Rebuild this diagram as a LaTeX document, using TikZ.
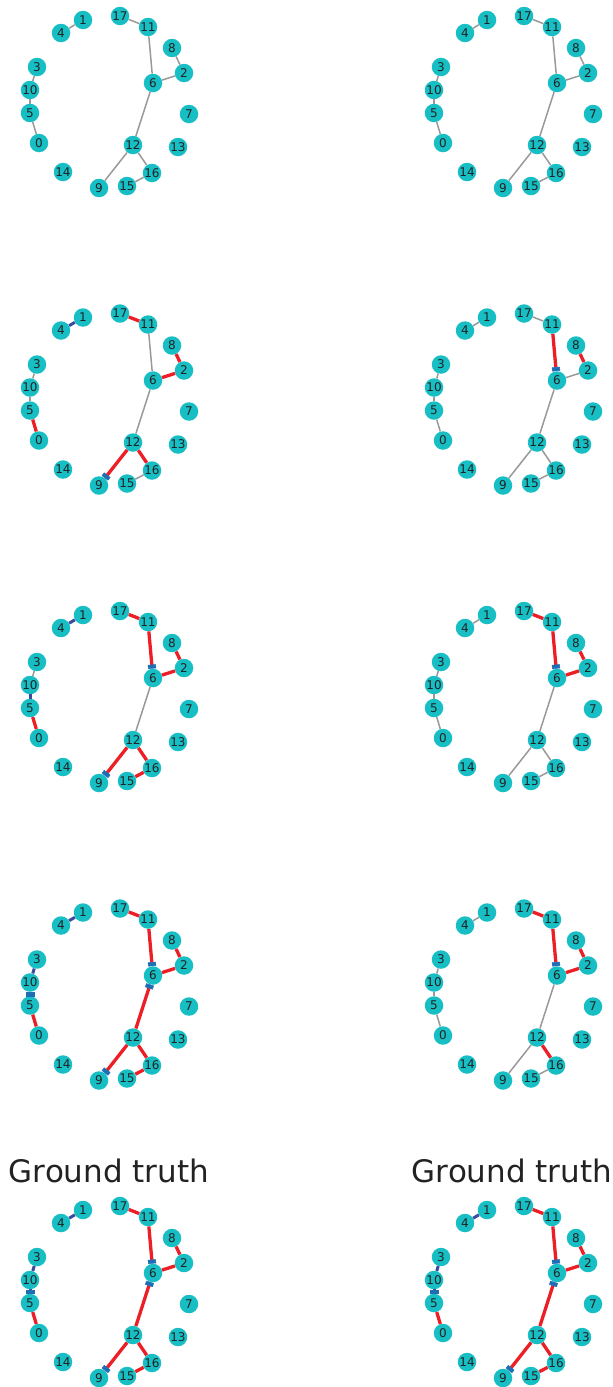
\documentclass[tikz,border=0pt]{standalone}
\usepackage{fontspec}
\setmainfont{DejaVu Sans}
\usetikzlibrary{arrows.meta}

\definecolor{nodeteal}{RGB}{23,190,196}
\definecolor{edgered}{RGB}{236,30,38}
\definecolor{edgeblue}{RGB}{58,76,160}
\definecolor{markblue}{RGB}{31,110,180}
\definecolor{labelink}{RGB}{34,34,34}

% the 18 vertices of one panel, named #1-0 ... #1-17
\newcommand{\panelnodes}[3]{%
  \foreach \n/\x/\y in {0/39/143, 1/83/20, 2/184/73, 3/37/67, 4/61/33, 5/30/113,
      6/153/83, 7/189/114, 8/172/48, 9/99/188, 10/30/90, 11/148/27,
      12/133/145, 13/178/147, 14/63/172, 15/127/186, 16/152/173, 17/120/16}
    \node[vertex] (#1-\n) at ({#2+\x},{#3+\y}) {\n};
}
% the edges of one panel, given as style/from/to
\newcommand{\paneledges}[2]{%
  \foreach \s/\a/\b in {#2}
    \draw[\s] (#1-\a) -- (#1-\b);
}

\begin{document}
\begin{tikzpicture}[
    x=1pt, y=-1pt,
    vertex/.style={circle, fill=nodeteal, inner sep=0pt, minimum size=18.5pt,
      text=labelink, font=\fontsize{12}{12}\selectfont},
    grayedge/.style={draw=black!40, line width=1.5pt},
    rededge/.style={draw=edgered, line width=3.3pt},
    blueedge/.style={draw=edgeblue, line width=3pt},
    marker/.style={-{Rectangle[length=4pt, width=8pt, line width=0.5pt, color=markblue, fill=markblue]}},
    redarrow/.style={rededge, marker},
    bluearrow/.style={blueedge, marker},
    title/.style={anchor=base, text=labelink, font=\fontsize{31}{31}\selectfont}
]
\useasboundingbox (0,0) rectangle (613,1387);

% row 1
\panelnodes{a}{0}{0}
\paneledges{a}{grayedge/4/1, grayedge/17/11, grayedge/11/6, grayedge/8/2, grayedge/2/6, grayedge/6/12,
  grayedge/12/9, grayedge/12/16, grayedge/16/15, grayedge/3/10, grayedge/10/5, grayedge/5/0}
\panelnodes{b}{404}{0}
\paneledges{b}{grayedge/4/1, grayedge/17/11, grayedge/11/6, grayedge/8/2, grayedge/2/6, grayedge/6/12,
  grayedge/12/9, grayedge/12/16, grayedge/16/15, grayedge/3/10, grayedge/10/5, grayedge/5/0}

% row 2
\panelnodes{c}{0}{297.5}
\paneledges{c}{blueedge/4/1, rededge/17/11, grayedge/11/6, rededge/8/2, rededge/2/6, grayedge/6/12,
  redarrow/12/9, rededge/12/16, grayedge/16/15, grayedge/3/10, grayedge/10/5, rededge/5/0}
\panelnodes{d}{404}{297.5}
\paneledges{d}{grayedge/4/1, grayedge/17/11, redarrow/11/6, rededge/8/2, grayedge/2/6, grayedge/6/12,
  grayedge/12/9, grayedge/12/16, grayedge/16/15, grayedge/3/10, grayedge/10/5, grayedge/5/0}

% row 3
\panelnodes{e}{0}{595}
\paneledges{e}{blueedge/4/1, rededge/17/11, redarrow/11/6, rededge/8/2, rededge/2/6, grayedge/6/12,
  redarrow/12/9, rededge/12/16, rededge/16/15, grayedge/3/10, blueedge/10/5, rededge/5/0}
\panelnodes{f}{404}{595}
\paneledges{f}{grayedge/4/1, rededge/17/11, redarrow/11/6, rededge/8/2, rededge/2/6, grayedge/6/12,
  grayedge/12/9, grayedge/12/16, grayedge/16/15, grayedge/3/10, grayedge/10/5, grayedge/5/0}

% row 4
\panelnodes{g}{0}{892.5}
\paneledges{g}{blueedge/4/1, rededge/17/11, redarrow/11/6, rededge/8/2, rededge/2/6, redarrow/12/6,
  redarrow/12/9, rededge/12/16, rededge/16/15, blueedge/3/10, bluearrow/10/5, rededge/5/0}
\panelnodes{h}{404}{892.5}
\paneledges{h}{grayedge/4/1, rededge/17/11, redarrow/11/6, rededge/8/2, rededge/2/6, grayedge/6/12,
  grayedge/12/9, rededge/12/16, grayedge/16/15, grayedge/3/10, grayedge/10/5, grayedge/5/0}

% row 5: ground truth
\node[title] (truth-left) at (109,1182) {Ground truth};
\node[title] (truth-right) at (512,1182) {Ground truth};
\panelnodes{i}{0}{1190}
\paneledges{i}{blueedge/4/1, rededge/17/11, redarrow/11/6, rededge/8/2, rededge/2/6, redarrow/12/6,
  redarrow/12/9, rededge/12/16, rededge/16/15, blueedge/3/10, bluearrow/10/5, rededge/5/0}
\panelnodes{j}{404}{1190}
\paneledges{j}{blueedge/4/1, rededge/17/11, redarrow/11/6, rededge/8/2, rededge/2/6, redarrow/12/6,
  redarrow/12/9, rededge/12/16, rededge/16/15, blueedge/3/10, bluearrow/10/5, rededge/5/0}

\end{tikzpicture}
\end{document}
